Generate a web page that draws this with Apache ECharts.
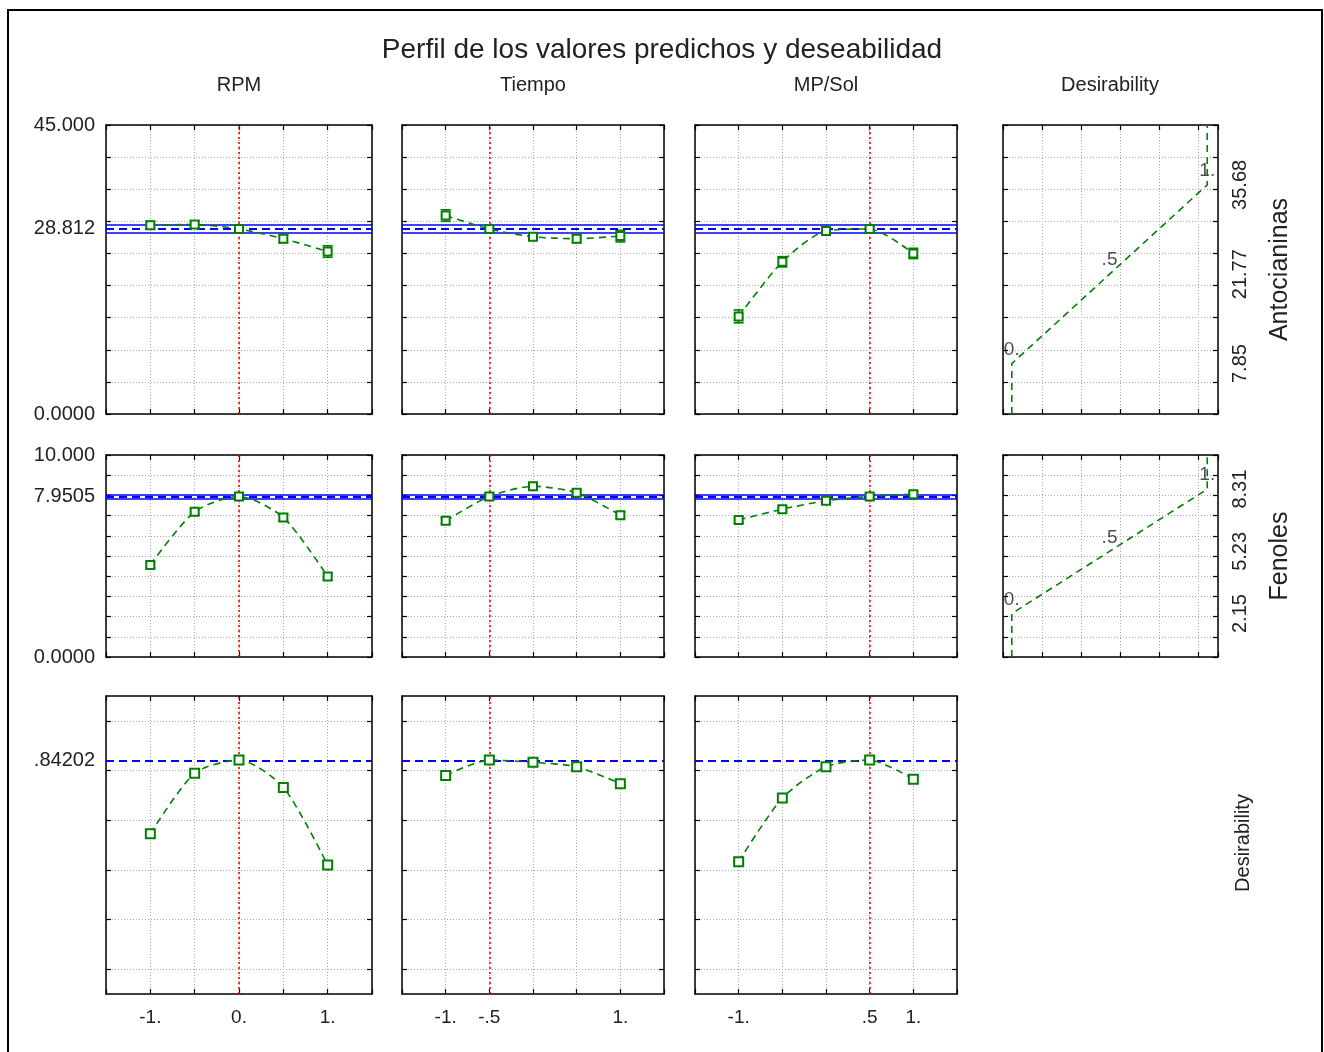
<!DOCTYPE html>
<html><head><meta charset="utf-8">
<script src="https://cdn.jsdelivr.net/npm/echarts@6/dist/echarts.min.js"></script>
<style>html,body{margin:0;padding:0;background:#fff}#c{width:1324px;height:1052px}</style>
</head><body><div id="c"></div><script>
// ---------------- DATA ----------------
const chartTitle = 'Perfil de los valores predichos y deseabilidad';
const factors = ['RPM', 'Tiempo', 'MP/Sol'];
const desirabilityHeader = 'Desirability';
const responses = ['Antocianinas', 'Fenoles', 'Desirability'];
const levels = [-1, -0.5, 0, 0.5, 1];
const currentLevel = [0, -0.5, 0.5];
const xTickValues = [[-1, 0, 1], [-1, -0.5, 1], [-1, 0.5, 1]];
const xTickText = [['-1.', '0.', '1.'], ['-1.', '-.5', '1.'], ['-1.', '.5', '1.']];

// Antocianinas
const antoRPM = [29.4, 29.5, 28.81, 27.3, 25.3];
const antoTiempo = [30.9, 28.81, 27.6, 27.3, 27.7];
const antoMPSol = [15.2, 23.7, 28.5, 28.81, 25.0];
const antoErrRPM = [0.6, 0.5, 0.5, 0.6, 0.9];
const antoErrTiempo = [0.9, 0.5, 0.5, 0.6, 0.9];
const antoErrMPSol = [1.0, 0.8, 0.6, 0.5, 0.8];
const antoPred = 28.812;
const antoCI = [28.15, 29.47];
const antoRange = [0, 45, 5];
const antoTickValues = [0, 28.812, 45];
const antoTickText = ['0.0000', '28.812', '45.000'];
const antoDesValues = [7.85, 21.77, 35.68];
const antoDesText = ['7.85', '21.77', '35.68'];

// Fenoles
const fenRPM = [4.56, 7.19, 7.95, 6.91, 3.98];
const fenTiempo = [6.74, 7.95, 8.45, 8.13, 7.02];
const fenMPSol = [6.78, 7.32, 7.73, 7.95, 8.06];
const fenErrRPM = [0.15, 0.15, 0.15, 0.15, 0.15];
const fenErrTiempo = [0.15, 0.15, 0.15, 0.15, 0.15];
const fenErrMPSol = [0.12, 0.12, 0.12, 0.12, 0.12];
const fenPred = 7.9505;
const fenCI = [7.85, 8.05];
const fenRange = [0, 10, 1];
const fenTickValues = [0, 7.9505, 10];
const fenTickText = ['0.0000', '7.9505', '10.000'];
const fenDesValues = [2.15, 5.23, 8.31];
const fenDesText = ['2.15', '5.23', '8.31'];

// Desirability
const desRPM = [0.545, 0.789, 0.842, 0.732, 0.419];
const desTiempo = [0.78, 0.842, 0.833, 0.815, 0.747];
const desMPSol = [0.433, 0.689, 0.815, 0.842, 0.765];
const desPred = 0.84202;
const desRange = [-0.1, 1.1, 0.2];
const desGridValues = [0, 0.2, 0.4, 0.6, 0.8, 1.0];
const desTickValues = [0.84202];
const desTickText = ['.84202'];

// desirability function levels (x of the right column)
const desLevels = [0, 0.5, 1];
const desLevelText = ['0.', '.5', '1.'];
const desAxisRange = [-0.045, 1.055, 0.2];

// ---------------- LAYOUT / STYLE ----------------
const FONT = "'Liberation Sans', Arial, sans-serif";
const TXT = '#222';
const GREEN = '#008000';
const colBox = [[106, 266], [402, 262], [695, 262], [1003, 215]];
const rowBox = [[125, 289], [455, 202], [696, 298]];

const rows = [
  {range: antoRange, grid: null, tv: antoTickValues, tt: antoTickText, vals: [antoRPM, antoTiempo, antoMPSol],
   err: [antoErrRPM, antoErrTiempo, antoErrMPSol], pred: antoPred, ci: antoCI, dv: antoDesValues, dt: antoDesText, name: responses[0]},
  {range: fenRange, grid: null, tv: fenTickValues, tt: fenTickText, vals: [fenRPM, fenTiempo, fenMPSol],
   err: [fenErrRPM, fenErrTiempo, fenErrMPSol], pred: fenPred, ci: fenCI, dv: fenDesValues, dt: fenDesText, name: responses[1]},
  {range: desRange, grid: desGridValues, tv: desTickValues, tt: desTickText, vals: [desRPM, desTiempo, desMPSol],
   err: null, pred: desPred, ci: null, dv: null, dt: null, name: responses[2]}
];

const grids = [], xAxes = [], yAxes = [], series = [];
const axLine = {show: true, onZero: false, lineStyle: {color: '#000', width: 1.5}};
const tickIn = {show: true, inside: true, length: 5, lineStyle: {color: '#000', width: 1.2}};
const split = {show: true, lineStyle: {color: '#a8a8a8', type: [1, 2], width: 1}};
const lookup = (vals, texts) => v => {
  for (let i = 0; i < vals.length; i++) if (Math.abs(vals[i] - v) < 1e-6) return texts[i];
  return '';
};
const ticksFor = g => g ? Object.assign({}, tickIn, {customValues: g}) : tickIn;
const splitFor = g => g ? Object.assign({}, split, {customValues: g}) : split;

function errorBars(xi, yi, vals, err) {
  return {
    type: 'custom', xAxisIndex: xi, yAxisIndex: yi, z: 4, silent: true,
    data: levels.map((x, k) => [x, vals[k] - err[k], vals[k] + err[k]]),
    renderItem(params, api) {
      const x = api.value(0);
      const lo = api.coord([x, api.value(1)]);
      const hi = api.coord([x, api.value(2)]);
      const w = 5, st = {stroke: GREEN, lineWidth: 1.6};
      return {type: 'group', children: [
        {type: 'line', shape: {x1: lo[0], y1: lo[1], x2: hi[0], y2: hi[1]}, style: st},
        {type: 'line', shape: {x1: lo[0] - w, y1: lo[1], x2: lo[0] + w, y2: lo[1]}, style: st},
        {type: 'line', shape: {x1: hi[0] - w, y1: hi[1], x2: hi[0] + w, y2: hi[1]}, style: st}
      ]};
    }
  };
}

rows.forEach((row, r) => {
  const ncol = row.dv ? 4 : 3;
  for (let c = 0; c < ncol; c++) {
    const gi = grids.length;
    grids.push({left: colBox[c][0], top: rowBox[r][0], width: colBox[c][1], height: rowBox[r][1]});
    const isDes = c === 3;
    const xr = isDes ? desAxisRange : [-1.5, 1.5, 0.5];
    const xb = xAxes.length;
    xAxes.push({type: 'value', gridIndex: gi, position: 'bottom', min: xr[0], max: xr[1], interval: xr[2],
      axisLine: axLine, axisTick: tickIn, splitLine: split,
      axisLabel: (r === 2 && !isDes) ? {show: true, customValues: xTickValues[c], formatter: lookup(xTickValues[c], xTickText[c]),
        color: TXT, fontFamily: FONT, fontSize: 19, margin: 14} : {show: false}});
    xAxes.push({type: 'value', gridIndex: gi, position: 'top', min: xr[0], max: xr[1], interval: xr[2],
      axisLine: axLine, axisTick: tickIn, splitLine: {show: false}, axisLabel: {show: false}});
    const yl = yAxes.length;
    yAxes.push({type: 'value', gridIndex: gi, position: 'left', min: row.range[0], max: row.range[1], interval: row.range[2],
      axisLine: axLine, axisTick: ticksFor(row.grid), splitLine: splitFor(row.grid),
      axisLabel: c === 0 ? {show: true, customValues: row.tv, formatter: lookup(row.tv, row.tt), color: TXT,
        fontFamily: FONT, fontSize: 20, margin: 11} : {show: false}});
    yAxes.push(Object.assign({type: 'value', gridIndex: gi, position: 'right', min: row.range[0], max: row.range[1], interval: row.range[2],
      axisLine: axLine, axisTick: ticksFor(row.grid), splitLine: {show: false}},
      isDes ? {axisLabel: {show: true, customValues: row.dv, formatter: lookup(row.dv, row.dt), rotate: 90, color: TXT,
                fontFamily: FONT, fontSize: 20, margin: 12},
               name: row.name, nameLocation: 'middle', nameRotate: 90, nameGap: 50,
               nameTextStyle: {color: TXT, fontFamily: FONT, fontSize: 25}}
            : {axisLabel: {show: false}}));

    if (!isDes) {
      const mlData = [{xAxis: currentLevel[c], lineStyle: {color: '#ff0000', type: [2, 3], width: 1.6}}];
      if (row.ci) {
        mlData.push({yAxis: row.ci[0], lineStyle: {color: '#0000ff', type: 'solid', width: 1.5}});
        mlData.push({yAxis: row.ci[1], lineStyle: {color: '#0000ff', type: 'solid', width: 1.5}});
      }
      mlData.push({yAxis: row.pred, lineStyle: {color: '#0000ff', type: [8, 5], width: 2}});
      series.push({type: 'line', xAxisIndex: xb, yAxisIndex: yl, z: 5,
        data: levels.map((x, k) => [x, row.vals[c][k]]), smooth: 0.25,
        symbol: 'emptyRect', symbolSize: r === 2 ? 9 : 8, showAllSymbol: true,
        itemStyle: {color: GREEN, borderColor: GREEN, borderWidth: 1.6},
        lineStyle: {color: GREEN, type: [7, 5], width: 1.6},
        markLine: {silent: true, symbol: 'none', label: {show: false}, animation: false, data: mlData}
      });
      if (row.err) series.push(errorBars(xb, yl, row.vals[c], row.err[c]));
    } else {
      const curve = [[desLevels[0], row.range[0]]];
      desLevels.forEach((d, k) => curve.push([d, row.dv[k]]));
      curve.push([desLevels[2], row.range[1]]);
      series.push({type: 'line', xAxisIndex: xb, yAxisIndex: yl, data: curve, symbol: 'none',
        lineStyle: {color: GREEN, type: [7, 5], width: 1.6}, z: 5});
      series.push({type: 'scatter', xAxisIndex: xb, yAxisIndex: yl, symbolSize: 1, itemStyle: {color: 'rgba(0,0,0,0)'},
        data: desLevels.map((d, k) => [d, row.dv[k]]),
        label: {show: true, position: 'top', distance: 4, color: TXT, fontFamily: FONT, fontSize: 19,
          formatter: p => desLevelText[p.dataIndex]}});
    }
  }
});

const headerX = [239, 533, 826, 1110];
const graphic = [
  {type: 'rect', silent: true, shape: {x: 8, y: 10, width: 1314, height: 1100}, style: {fill: 'none', stroke: '#000', lineWidth: 2}}
];
factors.concat([desirabilityHeader]).forEach((t, i) => graphic.push({type: 'text', silent: true, x: headerX[i], y: 85,
  style: {text: t, fill: TXT, fontFamily: FONT, fontSize: 20, align: 'center', verticalAlign: 'middle'}}));
graphic.push({type: 'text', silent: true, x: 1243, y: 843, rotation: Math.PI / 2,
  style: {text: responses[2], fill: TXT, fontFamily: FONT, fontSize: 20, align: 'center', verticalAlign: 'middle'}});

const chart = echarts.init(document.getElementById('c'));
chart.setOption({
  animation: false,
  backgroundColor: '#fff',
  title: {text: chartTitle, left: 'center', top: 31, textStyle: {color: TXT, fontFamily: FONT, fontSize: 28, fontWeight: 'normal'}},
  grid: grids, xAxis: xAxes, yAxis: yAxes, series: series, graphic: graphic
});
</script></body></html>
